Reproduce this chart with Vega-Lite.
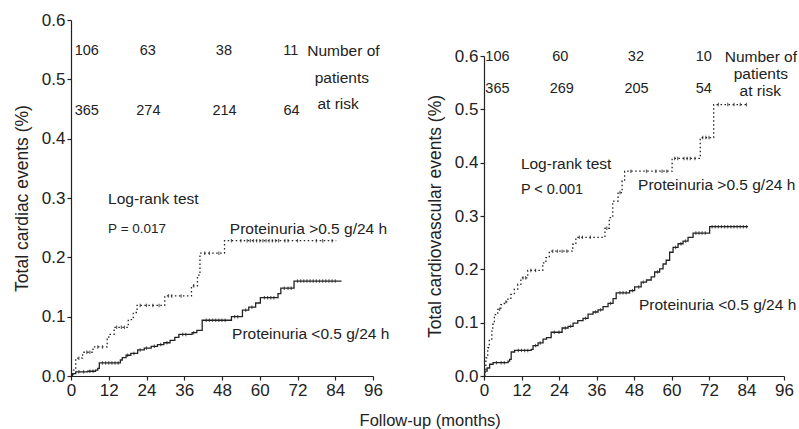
{
  "$schema": "https://vega.github.io/schema/vega-lite/v6.json",
  "padding": {"left": 13, "top": 11, "right": 5, "bottom": 2},
  "background": "white",
  "datasets": {
    "cardiac": [
      {"series": "high", "month": 0, "value": 0},
      {"series": "high", "month": 0.8, "value": 0.01},
      {"series": "high", "month": 1.5, "value": 0.03},
      {"series": "high", "month": 3.7, "value": 0.04},
      {"series": "high", "month": 7, "value": 0.049},
      {"series": "high", "month": 11.5, "value": 0.062},
      {"series": "high", "month": 12, "value": 0.07},
      {"series": "high", "month": 13.7, "value": 0.082},
      {"series": "high", "month": 18.2, "value": 0.095},
      {"series": "high", "month": 19.8, "value": 0.107},
      {"series": "high", "month": 21, "value": 0.119},
      {"series": "high", "month": 29.8, "value": 0.135},
      {"series": "high", "month": 38.3, "value": 0.152},
      {"series": "high", "month": 40.2, "value": 0.17},
      {"series": "high", "month": 41, "value": 0.207},
      {"series": "high", "month": 48.8, "value": 0.228},
      {"series": "high", "month": 84.3, "value": 0.228},
      {"series": "low", "month": 0, "value": 0},
      {"series": "low", "month": 0.5, "value": 0.004},
      {"series": "low", "month": 1.5, "value": 0.007},
      {"series": "low", "month": 5.3, "value": 0.008},
      {"series": "low", "month": 7.8, "value": 0.01},
      {"series": "low", "month": 8.5, "value": 0.013},
      {"series": "low", "month": 9, "value": 0.022},
      {"series": "low", "month": 15.7, "value": 0.027},
      {"series": "low", "month": 16.3, "value": 0.031},
      {"series": "low", "month": 17.5, "value": 0.035},
      {"series": "low", "month": 19, "value": 0.038},
      {"series": "low", "month": 21.2, "value": 0.044},
      {"series": "low", "month": 23.3, "value": 0.047},
      {"series": "low", "month": 25.5, "value": 0.05},
      {"series": "low", "month": 27.5, "value": 0.053},
      {"series": "low", "month": 29.5, "value": 0.056},
      {"series": "low", "month": 31.5, "value": 0.06},
      {"series": "low", "month": 33, "value": 0.065},
      {"series": "low", "month": 34.3, "value": 0.07},
      {"series": "low", "month": 38.5, "value": 0.073},
      {"series": "low", "month": 40, "value": 0.077},
      {"series": "low", "month": 41.7, "value": 0.094},
      {"series": "low", "month": 51, "value": 0.1},
      {"series": "low", "month": 54.5, "value": 0.111},
      {"series": "low", "month": 56.5, "value": 0.116},
      {"series": "low", "month": 58.7, "value": 0.123},
      {"series": "low", "month": 60.2, "value": 0.132},
      {"series": "low", "month": 65.8, "value": 0.139},
      {"series": "low", "month": 66.7, "value": 0.148},
      {"series": "low", "month": 70.9, "value": 0.16},
      {"series": "low", "month": 86, "value": 0.16}
    ],
    "cardiacCensor": [
      {"series": "high", "month": 2.5, "value": 0.03},
      {"series": "high", "month": 5, "value": 0.04},
      {"series": "high", "month": 6, "value": 0.04},
      {"series": "high", "month": 8.5, "value": 0.049},
      {"series": "high", "month": 10, "value": 0.049},
      {"series": "high", "month": 14.5, "value": 0.082},
      {"series": "high", "month": 16, "value": 0.082},
      {"series": "high", "month": 17, "value": 0.082},
      {"series": "high", "month": 22, "value": 0.119},
      {"series": "high", "month": 24, "value": 0.119},
      {"series": "high", "month": 26, "value": 0.119},
      {"series": "high", "month": 28, "value": 0.119},
      {"series": "high", "month": 31, "value": 0.135},
      {"series": "high", "month": 32, "value": 0.135},
      {"series": "high", "month": 35, "value": 0.135},
      {"series": "high", "month": 39, "value": 0.152},
      {"series": "high", "month": 42.5, "value": 0.207},
      {"series": "high", "month": 44, "value": 0.207},
      {"series": "high", "month": 47, "value": 0.207},
      {"series": "high", "month": 51, "value": 0.228},
      {"series": "high", "month": 54, "value": 0.228},
      {"series": "high", "month": 56, "value": 0.228},
      {"series": "high", "month": 57, "value": 0.228},
      {"series": "high", "month": 58, "value": 0.228},
      {"series": "high", "month": 59, "value": 0.228},
      {"series": "high", "month": 60, "value": 0.228},
      {"series": "high", "month": 61, "value": 0.228},
      {"series": "high", "month": 62, "value": 0.228},
      {"series": "high", "month": 63, "value": 0.228},
      {"series": "high", "month": 64, "value": 0.228},
      {"series": "high", "month": 65, "value": 0.228},
      {"series": "high", "month": 66, "value": 0.228},
      {"series": "high", "month": 68, "value": 0.228},
      {"series": "high", "month": 69, "value": 0.228},
      {"series": "high", "month": 72, "value": 0.228},
      {"series": "high", "month": 78, "value": 0.228},
      {"series": "high", "month": 80, "value": 0.228},
      {"series": "high", "month": 83, "value": 0.228},
      {"series": "low", "month": 2.5, "value": 0.007},
      {"series": "low", "month": 4, "value": 0.007},
      {"series": "low", "month": 6, "value": 0.008},
      {"series": "low", "month": 7, "value": 0.008},
      {"series": "low", "month": 10, "value": 0.022},
      {"series": "low", "month": 11, "value": 0.022},
      {"series": "low", "month": 12, "value": 0.022},
      {"series": "low", "month": 13, "value": 0.022},
      {"series": "low", "month": 14, "value": 0.022},
      {"series": "low", "month": 15, "value": 0.022},
      {"series": "low", "month": 18, "value": 0.035},
      {"series": "low", "month": 20, "value": 0.038},
      {"series": "low", "month": 22, "value": 0.044},
      {"series": "low", "month": 24, "value": 0.047},
      {"series": "low", "month": 26.5, "value": 0.05},
      {"series": "low", "month": 28.5, "value": 0.053},
      {"series": "low", "month": 30.5, "value": 0.056},
      {"series": "low", "month": 35.5, "value": 0.07},
      {"series": "low", "month": 36.5, "value": 0.07},
      {"series": "low", "month": 39, "value": 0.073},
      {"series": "low", "month": 43, "value": 0.094},
      {"series": "low", "month": 44, "value": 0.094},
      {"series": "low", "month": 45, "value": 0.094},
      {"series": "low", "month": 46, "value": 0.094},
      {"series": "low", "month": 47, "value": 0.094},
      {"series": "low", "month": 48, "value": 0.094},
      {"series": "low", "month": 49, "value": 0.094},
      {"series": "low", "month": 52, "value": 0.1},
      {"series": "low", "month": 53, "value": 0.1},
      {"series": "low", "month": 55.5, "value": 0.111},
      {"series": "low", "month": 57.5, "value": 0.116},
      {"series": "low", "month": 61.5, "value": 0.132},
      {"series": "low", "month": 62.5, "value": 0.132},
      {"series": "low", "month": 63.5, "value": 0.132},
      {"series": "low", "month": 64.5, "value": 0.132},
      {"series": "low", "month": 67.8, "value": 0.148},
      {"series": "low", "month": 69, "value": 0.148},
      {"series": "low", "month": 70, "value": 0.148},
      {"series": "low", "month": 72, "value": 0.16},
      {"series": "low", "month": 73, "value": 0.16},
      {"series": "low", "month": 74, "value": 0.16},
      {"series": "low", "month": 75, "value": 0.16},
      {"series": "low", "month": 76, "value": 0.16},
      {"series": "low", "month": 77, "value": 0.16},
      {"series": "low", "month": 78, "value": 0.16},
      {"series": "low", "month": 79, "value": 0.16},
      {"series": "low", "month": 80, "value": 0.16},
      {"series": "low", "month": 81, "value": 0.16},
      {"series": "low", "month": 82, "value": 0.16},
      {"series": "low", "month": 83, "value": 0.16},
      {"series": "low", "month": 84, "value": 0.16}
    ],
    "cv": [
      {"series": "high", "month": 0, "value": 0},
      {"series": "high", "month": 0.3, "value": 0.01},
      {"series": "high", "month": 0.6, "value": 0.034},
      {"series": "high", "month": 1.2, "value": 0.053},
      {"series": "high", "month": 1.7, "value": 0.069},
      {"series": "high", "month": 2.5, "value": 0.084},
      {"series": "high", "month": 2.8, "value": 0.097},
      {"series": "high", "month": 3.3, "value": 0.115},
      {"series": "high", "month": 4.4, "value": 0.125},
      {"series": "high", "month": 5.4, "value": 0.134},
      {"series": "high", "month": 6.5, "value": 0.139},
      {"series": "high", "month": 7.6, "value": 0.144},
      {"series": "high", "month": 8.6, "value": 0.153},
      {"series": "high", "month": 9.7, "value": 0.163},
      {"series": "high", "month": 10.8, "value": 0.172},
      {"series": "high", "month": 11.8, "value": 0.184},
      {"series": "high", "month": 14, "value": 0.198},
      {"series": "high", "month": 18.8, "value": 0.212},
      {"series": "high", "month": 19.8, "value": 0.222},
      {"series": "high", "month": 20.9, "value": 0.234},
      {"series": "high", "month": 28.4, "value": 0.247},
      {"series": "high", "month": 29.4, "value": 0.26},
      {"series": "high", "month": 38.7, "value": 0.277},
      {"series": "high", "month": 40.1, "value": 0.297},
      {"series": "high", "month": 41.2, "value": 0.328},
      {"series": "high", "month": 42.9, "value": 0.344},
      {"series": "high", "month": 44.2, "value": 0.366},
      {"series": "high", "month": 45, "value": 0.384},
      {"series": "high", "month": 60.2, "value": 0.408},
      {"series": "high", "month": 69.2, "value": 0.447},
      {"series": "high", "month": 73.5, "value": 0.509},
      {"series": "high", "month": 84.5, "value": 0.509},
      {"series": "low", "month": 0, "value": 0},
      {"series": "low", "month": 0.2, "value": 0.009},
      {"series": "low", "month": 1, "value": 0.015},
      {"series": "low", "month": 1.8, "value": 0.022},
      {"series": "low", "month": 2.9, "value": 0.025},
      {"series": "low", "month": 7.7, "value": 0.028},
      {"series": "low", "month": 8.2, "value": 0.031},
      {"series": "low", "month": 8.7, "value": 0.045},
      {"series": "low", "month": 9.8, "value": 0.048},
      {"series": "low", "month": 15.1, "value": 0.05},
      {"series": "low", "month": 15.7, "value": 0.057},
      {"series": "low", "month": 17.3, "value": 0.062},
      {"series": "low", "month": 18.9, "value": 0.069},
      {"series": "low", "month": 20, "value": 0.072},
      {"series": "low", "month": 21.5, "value": 0.082},
      {"series": "low", "month": 25, "value": 0.09},
      {"series": "low", "month": 26.9, "value": 0.093},
      {"series": "low", "month": 28.5, "value": 0.099},
      {"series": "low", "month": 30, "value": 0.104},
      {"series": "low", "month": 31.7, "value": 0.108},
      {"series": "low", "month": 33.3, "value": 0.116},
      {"series": "low", "month": 34.9, "value": 0.12},
      {"series": "low", "month": 36.5, "value": 0.124},
      {"series": "low", "month": 38.1, "value": 0.13},
      {"series": "low", "month": 39.7, "value": 0.136},
      {"series": "low", "month": 41.3, "value": 0.145},
      {"series": "low", "month": 42.3, "value": 0.156},
      {"series": "low", "month": 46.6, "value": 0.16},
      {"series": "low", "month": 48.2, "value": 0.167},
      {"series": "low", "month": 50.3, "value": 0.176},
      {"series": "low", "month": 52, "value": 0.18},
      {"series": "low", "month": 53.5, "value": 0.186},
      {"series": "low", "month": 54.6, "value": 0.195},
      {"series": "low", "month": 56.2, "value": 0.201},
      {"series": "low", "month": 57.3, "value": 0.21},
      {"series": "low", "month": 58.3, "value": 0.217},
      {"series": "low", "month": 59.4, "value": 0.232},
      {"series": "low", "month": 60.5, "value": 0.241},
      {"series": "low", "month": 62.1, "value": 0.248},
      {"series": "low", "month": 63.7, "value": 0.253},
      {"series": "low", "month": 65.3, "value": 0.26},
      {"series": "low", "month": 66.9, "value": 0.268},
      {"series": "low", "month": 72.2, "value": 0.28},
      {"series": "low", "month": 84.5, "value": 0.28}
    ],
    "cvCensor": [
      {"series": "high", "month": 5, "value": 0.125},
      {"series": "high", "month": 7, "value": 0.139},
      {"series": "high", "month": 12.5, "value": 0.184},
      {"series": "high", "month": 13.3, "value": 0.184},
      {"series": "high", "month": 15, "value": 0.198},
      {"series": "high", "month": 16.5, "value": 0.198},
      {"series": "high", "month": 22, "value": 0.234},
      {"series": "high", "month": 23.5, "value": 0.234},
      {"series": "high", "month": 25, "value": 0.234},
      {"series": "high", "month": 26.5, "value": 0.234},
      {"series": "high", "month": 30.5, "value": 0.26},
      {"series": "high", "month": 31.5, "value": 0.26},
      {"series": "high", "month": 34, "value": 0.26},
      {"series": "high", "month": 39.3, "value": 0.277},
      {"series": "high", "month": 43.5, "value": 0.344},
      {"series": "high", "month": 47, "value": 0.384},
      {"series": "high", "month": 52, "value": 0.384},
      {"series": "high", "month": 55, "value": 0.384},
      {"series": "high", "month": 57, "value": 0.384},
      {"series": "high", "month": 58.5, "value": 0.384},
      {"series": "high", "month": 61, "value": 0.408},
      {"series": "high", "month": 62, "value": 0.408},
      {"series": "high", "month": 64, "value": 0.408},
      {"series": "high", "month": 65, "value": 0.408},
      {"series": "high", "month": 66, "value": 0.408},
      {"series": "high", "month": 67.5, "value": 0.408},
      {"series": "high", "month": 70, "value": 0.447},
      {"series": "high", "month": 71, "value": 0.447},
      {"series": "high", "month": 72, "value": 0.447},
      {"series": "high", "month": 75, "value": 0.509},
      {"series": "high", "month": 78, "value": 0.509},
      {"series": "high", "month": 80, "value": 0.509},
      {"series": "high", "month": 82, "value": 0.509},
      {"series": "high", "month": 84, "value": 0.509},
      {"series": "low", "month": 4, "value": 0.025},
      {"series": "low", "month": 5.5, "value": 0.025},
      {"series": "low", "month": 6.5, "value": 0.025},
      {"series": "low", "month": 11, "value": 0.048},
      {"series": "low", "month": 12, "value": 0.048},
      {"series": "low", "month": 13, "value": 0.048},
      {"series": "low", "month": 14, "value": 0.048},
      {"series": "low", "month": 16.5, "value": 0.057},
      {"series": "low", "month": 18, "value": 0.062},
      {"series": "low", "month": 22.5, "value": 0.082},
      {"series": "low", "month": 24, "value": 0.082},
      {"series": "low", "month": 26, "value": 0.09},
      {"series": "low", "month": 27.7, "value": 0.093},
      {"series": "low", "month": 32.5, "value": 0.108},
      {"series": "low", "month": 35.7, "value": 0.12},
      {"series": "low", "month": 37.3, "value": 0.124},
      {"series": "low", "month": 40.5, "value": 0.136},
      {"series": "low", "month": 43.5, "value": 0.156},
      {"series": "low", "month": 44.5, "value": 0.156},
      {"series": "low", "month": 45.5, "value": 0.156},
      {"series": "low", "month": 47.5, "value": 0.16},
      {"series": "low", "month": 49.5, "value": 0.167},
      {"series": "low", "month": 51, "value": 0.176},
      {"series": "low", "month": 55.5, "value": 0.195},
      {"series": "low", "month": 61.3, "value": 0.241},
      {"series": "low", "month": 63, "value": 0.248},
      {"series": "low", "month": 64.5, "value": 0.253},
      {"series": "low", "month": 67.8, "value": 0.268},
      {"series": "low", "month": 68.8, "value": 0.268},
      {"series": "low", "month": 69.8, "value": 0.268},
      {"series": "low", "month": 70.8, "value": 0.268},
      {"series": "low", "month": 73, "value": 0.28},
      {"series": "low", "month": 74, "value": 0.28},
      {"series": "low", "month": 75, "value": 0.28},
      {"series": "low", "month": 76, "value": 0.28},
      {"series": "low", "month": 77, "value": 0.28},
      {"series": "low", "month": 78, "value": 0.28},
      {"series": "low", "month": 79, "value": 0.28},
      {"series": "low", "month": 80, "value": 0.28},
      {"series": "low", "month": 81, "value": 0.28},
      {"series": "low", "month": 82, "value": 0.28},
      {"series": "low", "month": 83, "value": 0.28},
      {"series": "low", "month": 84, "value": 0.28}
    ],
    "cardiacRisk": [
      {"label": "106", "month": 5, "value": 0.548},
      {"label": "63", "month": 24.4, "value": 0.548},
      {"label": "38", "month": 48.6, "value": 0.548},
      {"label": "11", "month": 69.9, "value": 0.548},
      {"label": "365", "month": 5, "value": 0.447},
      {"label": "274", "month": 24.6, "value": 0.447},
      {"label": "214", "month": 48.8, "value": 0.447},
      {"label": "64", "month": 70.1, "value": 0.447}
    ],
    "cardiacRiskLabel": [
      {"label": "Number of", "month": 86.6, "value": 0.548},
      {"label": "patients", "month": 86.1, "value": 0.503},
      {"label": "at risk", "month": 84.9, "value": 0.459}
    ],
    "cardiacNote": [
      {"label": "Log-rank test", "month": 11.8, "value": 0.298},
      {"label": "Proteinuria >0.5 g/24 h", "month": 50.5, "value": 0.248},
      {"label": "Proteinuria <0.5 g/24 h", "month": 51.2, "value": 0.071}
    ],
    "cardiacP": [
      {"label": "P = 0.017", "month": 11.8, "value": 0.248}
    ],
    "cvRisk": [
      {"label": "106", "month": 4.3, "value": 0.598},
      {"label": "60", "month": 24.4, "value": 0.598},
      {"label": "32", "month": 48.6, "value": 0.598},
      {"label": "10", "month": 70.3, "value": 0.598},
      {"label": "365", "month": 4.3, "value": 0.5375},
      {"label": "269", "month": 24.9, "value": 0.5375},
      {"label": "205", "month": 48.8, "value": 0.5375},
      {"label": "54", "month": 70.3, "value": 0.5375}
    ],
    "cvRiskLabel": [
      {"label": "Number of", "month": 88.6, "value": 0.598},
      {"label": "patients", "month": 88.6, "value": 0.567},
      {"label": "at risk", "month": 88.4, "value": 0.534}
    ],
    "cvNote": [
      {"label": "Log-rank test", "month": 11.8, "value": 0.398},
      {"label": "Proteinuria >0.5 g/24 h", "month": 49.3, "value": 0.358},
      {"label": "Proteinuria <0.5 g/24 h", "month": 49.6, "value": 0.133}
    ],
    "cvP": [
      {"label": "P < 0.001", "month": 11.8, "value": 0.349}
    ]
  },
  "bounds": "flush",
  "spacing": 111,
  "title": {"text": "Follow-up (months)", "orient": "bottom", "anchor": "middle", "fontSize": 16.5, "fontWeight": "normal", "font": "Liberation Sans", "color": "#222", "offset": 15, "dx": 25},
  "hconcat": [
    {
      "width": 302,
      "height": 356,
      "encoding": {
        "x": {"field": "month", "type": "quantitative", "scale": {"domain": [0, 96], "nice": false}, "axis": {"values": [0, 12, 24, 36, 48, 60, 72, 84, 96], "title": null, "labelOverlap": false, "labelSeparation": 0}},
        "y": {"field": "value", "type": "quantitative", "scale": {"domain": [0, 0.6], "nice": false}, "axis": {"values": [0, 0.1, 0.2, 0.3, 0.4, 0.5, 0.6], "format": ".1f", "title": "Total cardiac events (%)", "labelOverlap": false}}
      },
      "layer": [
        {
          "data": {"name": "cardiac"},
          "mark": {"type": "line", "interpolate": "step-after", "color": "#222", "strokeWidth": 1.3},
          "encoding": {
            "strokeDash": {"field": "series", "type": "nominal", "scale": {"domain": ["high", "low"], "range": [[1.5, 2.5], [1, 0]]}, "legend": null}
          }
        },
        {
          "data": {"name": "cardiacCensor"},
          "mark": {"type": "point", "shape": "M0,-1L0,1", "size": 12, "color": "#222", "strokeWidth": 1.2, "filled": false}
        },
        {
          "data": {"name": "cardiacRisk"},
          "mark": {"type": "text", "align": "center", "baseline": "middle", "fontSize": 14.5, "font": "Liberation Sans", "color": "#222"},
          "encoding": {"text": {"field": "label"}}
        },
        {
          "data": {"name": "cardiacRiskLabel"},
          "mark": {"type": "text", "align": "center", "baseline": "middle", "fontSize": 15.5, "font": "Liberation Sans", "color": "#222"},
          "encoding": {"text": {"field": "label"}}
        },
        {
          "data": {"name": "cardiacNote"},
          "mark": {"type": "text", "align": "left", "baseline": "middle", "fontSize": 15.5, "font": "Liberation Sans", "color": "#222"},
          "encoding": {"text": {"field": "label"}}
        },
        {
          "data": {"name": "cardiacP"},
          "mark": {"type": "text", "align": "left", "baseline": "middle", "fontSize": 13.5, "font": "Liberation Sans", "color": "#222"},
          "encoding": {"text": {"field": "label"}}
        }
      ]
    },
    {
      "width": 300,
      "height": 356,
      "encoding": {
        "x": {"field": "month", "type": "quantitative", "scale": {"domain": [0, 96], "nice": false}, "axis": {"values": [0, 12, 24, 36, 48, 60, 72, 84, 96], "title": null, "labelOverlap": false, "labelSeparation": 0}},
        "y": {"field": "value", "type": "quantitative", "scale": {"domain": [0, 0.6], "nice": false, "range": [356, 36]}, "axis": {"values": [0, 0.1, 0.2, 0.3, 0.4, 0.5, 0.6], "format": ".1f", "title": "Total cardiovascular events (%)", "labelOverlap": false}}
      },
      "layer": [
        {
          "data": {"name": "cv"},
          "mark": {"type": "line", "interpolate": "step-after", "color": "#222", "strokeWidth": 1.3},
          "encoding": {
            "strokeDash": {"field": "series", "type": "nominal", "scale": {"domain": ["high", "low"], "range": [[1.5, 2.5], [1, 0]]}, "legend": null}
          }
        },
        {
          "data": {"name": "cvCensor"},
          "mark": {"type": "point", "shape": "M0,-1L0,1", "size": 12, "color": "#222", "strokeWidth": 1.2, "filled": false}
        },
        {
          "data": {"name": "cvRisk"},
          "mark": {"type": "text", "align": "center", "baseline": "middle", "fontSize": 14.5, "font": "Liberation Sans", "color": "#222"},
          "encoding": {"text": {"field": "label"}}
        },
        {
          "data": {"name": "cvRiskLabel"},
          "mark": {"type": "text", "align": "center", "baseline": "middle", "fontSize": 15.5, "font": "Liberation Sans", "color": "#222"},
          "encoding": {"text": {"field": "label"}}
        },
        {
          "data": {"name": "cvNote"},
          "mark": {"type": "text", "align": "left", "baseline": "middle", "fontSize": 15.5, "font": "Liberation Sans", "color": "#222"},
          "encoding": {"text": {"field": "label"}}
        },
        {
          "data": {"name": "cvP"},
          "mark": {"type": "text", "align": "left", "baseline": "middle", "fontSize": 14.5, "font": "Liberation Sans", "color": "#222"},
          "encoding": {"text": {"field": "label"}}
        }
      ]
    }
  ],
  "config": {
    "view": {"stroke": null},
    "font": "Liberation Sans",
    "axis": {
      "grid": false,
      "domainColor": "#222",
      "domainWidth": 1.2,
      "tickColor": "#222",
      "tickWidth": 1.2,
      "tickSize": 4,
      "labelColor": "#222",
      "labelFont": "Liberation Sans",
      "labelFontSize": 17,
      "labelPadding": 2,
      "titleColor": "#222",
      "titleFont": "Liberation Sans",
      "titleFontSize": 17.5,
      "titleFontWeight": "normal",
      "titlePadding": 10,
      "labelFlush": false,
      "labelOverlap": false
    }
  }
}
